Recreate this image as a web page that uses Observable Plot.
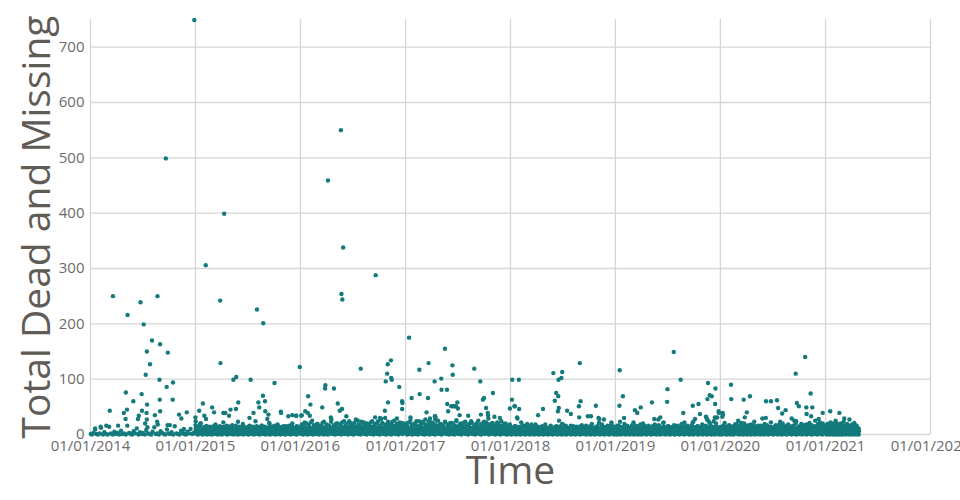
<!DOCTYPE html>
<html>
<head>
<meta charset="utf-8">
<script src="https://cdn.jsdelivr.net/npm/d3@7"></script>
<script src="https://cdn.jsdelivr.net/npm/@observablehq/plot@0.6"></script>
<style>
  html, body { margin: 0; padding: 0; background: #ffffff; }
  #chart { width: 960px; height: 500px; }
</style>
</head>
<body>
<div id="chart"></div>
<script>
// Years covered and tick values
const years = [2014, 2015, 2016, 2017, 2018, 2019, 2020, 2021];
const xTickYears = [2014, 2015, 2016, 2017, 2018, 2019, 2020, 2021, 2022];
const yTicks = [0, 100, 200, 300, 400, 500, 600, 700];

// Incidents: "dayOfYear value" pairs, read/.
// Larger incidents per year
const peaks2014 = "79 250,130 216,175 239,186 199,234 250,215 170,243 163,197 150,270 148,208 127,193 108,241 99,266 86,288 94,124 76,179 73,150 60,242 63,287 63,198 54,68 43,117 39,128 45,180 43,196 39,243 42,169 34,166 28,123 28,225 35,197 27,309 36,336 40,317 29,269 17,277 17,233 23,235 18,191 20,199 13,97 16,56 16,36 14,17 11,326 10,263 499,362 749";
const peaks2015 = "37 306,101 399,87 242,215 226,237 201,88 129,364 122,133 99,143 104,193 99,276 93,27 56,14 43,59 49,66 40,32 34,38 28,20 20,98 39,105 39,118 34,123 45,142 46,150 58,149 23,189 30,203 39,220 58,223 49,236 70,243 60,244 42,255 36,251 28,258 20,298 41,299 39,324 33,338 35,351 34,1 31,2 24,1 17,2 12,352 34";
const peaks2016 = "97 459,142 550,150 338,144 254,147 244,263 288,211 119,316 134,305 127,303 110,317 102,319 99,298 96,88 89,87 83,118 83,28 69,36 54,77 49,131 56,138 43,146 46,18 42,27 39,34 34,107 31,161 33,194 27,201 25,4 34,6 35,295 43,306 58,261 31,278 30,296 30,337 29,345 86,355 60,356 57,355 46";
const peaks2017 = "13 175,138 155,81 129,49 117,164 125,165 108,240 119,125 101,102 96,126 81,145 81,261 96,22 66,50 73,79 66,305 75,146 55,160 51,149 42,176 51,181 58,183 47,18 31,74 40,86 29,103 33,104 28,189 35,219 34,263 36,270 63,274 66,281 48,287 39,288 35,289 29,310 32,329 30,59 23,104 33,105 30,166 51,171 51,364 47";
const peaks2018 = "6 63,15 51,7 99,30 99,16 51,31 46,24 31,25 29,38 22,59 19,74 18,88 18,97 35,114 46,150 111,168 99,178 102,181 113,160 75,167 69,155 61,166 42,169 48,170 25,180 18,193 16,198 43,211 37,242 129,245 60,239 51,240 31,298 52,270 33,281 33,307 30,326 27,309 21,284 19,352 22,353 18,310 28";
const peaks2019 = "16 116,27 69,15 52,31 30,17 23,7 16,69 44,77 39,89 49,65 18,88 18,64 22,128 58,136 28,157 31,150 27,169 22,181 59,182 82,204 149,228 99,237 39,241 22,270 52,290 55,295 37,278 28,272 23,316 32,320 27,323 93,321 64,329 71,336 69,349 83,348 55,360 42,355 31,350 30,317 31,325 24,330 20,343 24,347 31,361 39";
const peaks2020 = "9 39,8 32,10 36,38 90,39 64,63 25,73 21,84 20,119 16,86 31,82 63,104 69,93 40,147 29,159 30,160 60,177 60,198 62,202 48,216 38,228 44,209 23,249 29,265 24,258 25,263 110,296 140,267 57,274 51,300 49,301 37,315 74,321 49,317 33,283 19,294 17,308 16,343 28,347 22,357 39";
const peaks2021 = "17 42,14 19,26 20,49 39,66 29,42 17,57 15";

// Dense band of small incidents
const low2014 = "2 1,6 0,11 3,17 9,21 1,27 0,33 2,38 12,44 0,49 4,55 1,61 0,66 14,72 2,78 0,84 5,90 1,95 3,101 0,107 7,112 1,118 2,124 0,129 16,135 3,140 1,146 0,151 6,157 2,162 11,168 0,173 4,179 1,184 3,190 0,195 8,201 2,206 1,212 0,217 5,223 13,228 1,234 2,239 0,245 6,250 3,256 1,261 0,267 9,272 2,278 1,283 4,289 0,294 15,300 2,305 1,311 0,316 7,322 3,327 1,333 0,338 5,344 2,349 10,355 1,360 3";
const low2015 = "1 4,3 9,5 1,8 12,10 0,13 6,15 3,18 20,20 2,22 7,25 0,27 11,30 4,32 1,35 8,37 2,40 15,42 0,44 5,47 3,49 10,52 1,54 6,57 0,59 13,61 3,64 7,66 1,69 4,71 18,74 2,76 9,78 0,81 5,83 12,86 1,88 3,91 8,93 0,95 6,98 22,100 2,103 10,105 4,108 1,110 7,112 0,115 14,117 3,120 5,122 1,125 9,127 2,129 17,132 0,134 6,137 11,139 3,142 1,144 8,146 4,149 0,151 13,154 2,156 6,159 1,161 10,163 3,166 19,168 0,171 7,173 2,176 12,178 5,180 1,183 9,185 0,188 4,190 15,193 2,195 8,197 1,200 11,202 3,205 0,207 6,210 24,212 2,214 9,217 4,219 1,222 13,224 0,227 7,229 3,231 16,234 1,236 5,239 10,241 2,244 0,246 8,248 3,251 12,253 1,256 6,258 21,261 0,263 4,265 9,268 2,270 14,273 1,275 7,278 3,280 0,282 11,285 5,287 18,290 1,292 8,295 2,297 0,299 13,302 4,304 6,307 1,309 10,312 3,314 0,316 15,319 7,321 2,324 9,326 1,329 12,331 4,333 0,336 6,338 20,341 2,343 8,346 1,348 11,350 3,353 0,355 7,358 14,360 2,363 5";
const low2016 = "2 6,4 1,6 14,9 3,11 0,13 9,16 22,18 2,21 5,23 11,25 0,28 7,30 17,33 3,35 1,37 10,40 4,42 25,45 0,47 8,49 2,52 13,54 5,57 1,59 19,61 3,64 9,66 0,69 6,71 15,73 2,76 11,78 4,81 0,83 23,85 7,88 1,90 12,93 3,95 8,97 0,100 16,102 5,105 2,107 10,109 27,112 1,114 6,117 14,119 3,121 0,124 9,126 20,129 4,131 1,133 12,136 7,138 2,141 18,143 0,145 5,148 11,150 3,153 24,155 1,157 8,160 15,162 2,165 6,167 0,169 13,172 4,174 21,177 1,179 9,181 3,184 16,186 0,189 7,191 12,193 2,196 26,198 5,201 1,203 10,205 3,208 17,210 0,213 8,215 14,217 2,220 6,222 22,225 1,227 11,229 4,232 0,234 19,237 7,239 2,241 13,244 5,246 1,249 9,251 24,253 3,256 0,258 15,261 6,263 2,265 11,268 20,270 1,273 8,275 4,277 0,280 14,282 28,285 3,287 7,289 1,292 12,294 5,297 18,299 0,301 9,304 2,306 23,309 6,311 1,313 13,316 4,318 0,321 16,323 8,325 2,328 25,330 5,333 1,335 11,337 3,340 19,342 0,345 7,347 14,349 2,352 21,354 6,357 1,359 10,361 4,364 17";
const low2017 = "1 3,3 12,6 0,8 21,10 5,13 1,15 9,18 26,20 2,22 14,25 0,27 7,30 18,32 3,34 1,37 11,39 24,42 4,44 0,46 8,49 15,51 2,54 6,56 20,58 1,61 10,63 3,66 0,68 13,70 27,73 5,75 1,78 9,80 17,82 2,85 0,87 12,90 4,92 22,94 7,97 1,99 15,102 3,104 0,106 10,109 25,111 6,114 2,116 13,118 1,121 19,123 4,126 0,128 8,130 16,133 2,135 11,138 23,140 5,142 1,145 9,147 3,150 18,152 0,154 14,157 6,159 2,162 21,164 1,166 10,169 4,171 0,174 15,176 7,178 26,181 2,183 12,186 1,188 5,190 19,193 3,195 0,198 9,200 14,202 2,205 22,207 6,210 1,212 11,214 4,217 17,219 0,222 8,224 13,226 2,229 24,231 5,234 1,236 10,238 3,241 16,243 0,246 7,248 20,250 2,253 12,255 4,258 1,260 9,262 18,265 0,267 6,270 14,272 3,274 23,277 1,279 8,282 11,284 2,286 5,289 17,291 0,294 9,296 3,298 13,301 20,303 1,306 7,308 4,310 15,313 0,315 10,318 2,320 22,322 6,325 1,327 12,330 3,332 0,334 16,337 8,339 2,342 11,344 19,346 1,349 5,351 13,354 0,356 9,358 3,361 15,363 1";
const low2018 = "2 5,4 0,7 11,9 2,12 7,14 1,16 15,19 3,21 0,24 9,26 4,28 13,31 1,33 6,36 0,38 10,40 2,43 17,45 5,48 1,50 8,52 0,55 12,57 3,60 6,62 1,64 14,67 2,69 0,72 9,74 4,76 11,79 1,81 7,84 0,86 16,88 3,91 5,93 1,96 10,98 2,100 0,103 13,105 6,108 1,110 8,112 3,115 0,117 12,120 4,122 18,124 1,127 7,129 2,132 0,134 10,136 5,139 14,141 1,144 3,146 9,148 0,151 6,153 11,156 2,158 1,160 15,163 4,165 0,168 8,170 2,172 12,175 1,177 6,180 0,182 19,184 3,187 9,189 1,192 5,194 13,196 0,199 7,201 2,204 10,206 4,208 1,211 16,213 0,216 8,218 3,220 11,223 1,225 6,228 0,230 14,232 2,235 9,237 4,240 1,242 12,244 0,247 7,249 17,252 2,254 5,256 1,259 10,261 3,264 0,266 13,268 6,271 1,273 8,276 2,278 15,280 0,283 4,285 11,288 1,290 7,292 3,295 0,297 9,300 14,302 2,304 5,307 1,309 12,312 0,314 8,316 3,319 18,321 1,324 6,326 10,328 0,331 4,333 13,336 2,338 7,340 1,343 11,345 0,348 5,350 16,352 3,355 9,357 1,360 6,362 0,364 12";
const low2019 = "1 8,3 1,6 13,8 0,11 5,13 16,15 2,18 9,20 0,23 12,25 4,27 1,30 7,32 19,35 2,37 0,39 10,42 5,44 14,47 1,49 6,51 0,54 11,56 3,59 17,61 1,63 8,66 0,68 4,71 13,73 2,75 9,78 1,80 0,83 15,85 6,87 2,90 11,92 0,95 4,97 20,99 1,102 7,104 3,107 12,109 0,111 9,114 2,116 16,119 5,121 1,123 10,126 0,128 13,131 3,133 7,135 1,138 18,140 2,143 0,145 8,147 11,150 4,152 1,155 14,157 0,159 6,162 9,164 2,167 21,169 1,171 5,174 12,176 0,179 7,181 3,183 15,186 1,188 10,191 0,193 4,195 13,198 2,200 8,203 1,205 17,207 0,210 6,212 11,215 3,217 1,219 9,222 14,224 0,227 5,229 2,231 19,234 1,236 7,239 12,241 0,243 4,246 10,248 2,251 16,253 1,255 6,258 0,260 13,263 3,265 8,267 1,270 22,272 0,275 5,277 11,279 2,282 9,284 1,287 15,289 0,291 7,294 3,296 12,299 1,301 4,303 18,306 0,308 10,311 2,313 6,315 14,318 1,320 0,323 9,325 3,327 12,330 1,332 17,335 0,337 5,339 8,342 2,344 13,347 0,349 6,351 20,354 1,356 10,359 3,361 7,363 0";
const low2020 = "2 10,4 1,7 0,9 14,11 3,14 6,16 21,19 1,21 8,23 0,26 12,28 4,31 2,33 16,35 0,38 9,40 5,43 1,45 13,47 0,50 7,52 18,55 2,57 10,59 1,62 4,64 15,67 0,69 6,71 11,74 2,76 1,79 20,81 0,83 8,86 3,88 13,91 1,93 5,95 0,98 10,100 17,103 2,105 7,107 0,110 12,112 4,115 1,117 9,119 23,122 0,124 6,127 14,129 2,131 1,134 11,136 5,139 0,141 16,143 3,146 8,148 1,151 12,153 0,155 19,158 4,160 7,163 2,165 10,167 0,170 14,172 1,175 6,177 22,179 3,182 9,184 0,187 13,189 5,191 1,194 17,196 2,199 8,201 0,203 11,206 4,208 15,211 1,213 7,215 0,218 20,220 3,223 10,225 1,227 6,230 13,232 0,235 9,237 18,239 2,242 5,244 1,247 12,249 0,251 8,254 16,256 3,259 1,261 11,263 24,266 0,268 7,271 4,273 14,275 1,278 9,280 2,283 19,285 0,287 6,290 12,292 3,295 1,297 17,299 8,302 0,304 13,307 5,309 2,311 21,314 1,316 10,319 0,321 15,323 4,326 7,328 1,331 25,333 3,335 11,338 0,340 6,343 18,345 2,347 9,350 1,352 14,355 0,357 20,359 5,362 3,364 12";
const low2021 = "1 6,2 14,4 0,5 9,7 2,8 19,10 4,12 1,13 11,15 0,16 7,18 22,20 3,21 13,23 1,24 8,26 0,28 16,29 5,31 2,32 10,34 0,36 25,37 6,39 1,40 12,42 3,44 0,45 17,47 7,48 2,50 11,52 0,53 20,55 4,56 9,58 1,60 14,61 0,63 6,64 23,66 2,68 10,69 1,71 15,72 0,74 8,76 19,77 3,79 12,80 1,82 5,84 27,85 0,87 9,88 14,90 2,92 6,93 18,95 0,96 11,98 3,100 7,101 21,103 1,104 13,106 0,108 9,109 16,111 4,112 2,114 10,116 0,117 6";

// Second layer of the dense band (values a little above zero)
const mid2014 = "";
const mid2015 = "2 7,5 14,7 3,10 9,12 5,15 16,17 8,20 4,23 11,25 6,28 2,30 13,33 9,35 5,38 15,41 7,43 3,46 10,48 6,51 14,53 2,56 9,58 5,61 12,63 8,66 16,68 3,71 10,73 6,76 13,78 4,81 9,84 7,86 15,89 2,91 11,94 5,96 8,99 14,101 3,104 10,106 6,109 16,111 4,114 9,117 12,119 2,122 7,124 15,127 5,129 10,132 3,135 13,137 8,140 6,142 16,145 2,147 11,150 7,153 4,155 14,158 9,160 3,163 12,165 6,168 15,171 8,173 2,176 10,178 5,181 13,183 7,186 3,189 16,191 9,194 4,196 11,199 6,201 14,204 2,207 8,209 12,212 5,214 15,217 3,219 10,222 7,225 13,227 4,230 9,232 16,235 2,237 11,240 6,243 14,245 8,248 3,250 12,253 5,255 10,258 7,261 15,263 2,266 9,268 13,271 4,273 6,276 16,279 8,281 3,284 11,286 5,289 14,291 7,294 2,297 10,299 12,302 4,304 8,307 15,309 3,312 9,315 6,317 13,320 2,322 11,325 7,327 16,330 4,333 10,335 5,338 14,340 8,343 3,345 12,348 6,351 9,353 15,356 2,358 11,361 7,363 4";
const mid2016 = "1 12,3 5,6 18,8 9,11 3,13 15,16 7,18 11,21 4,23 20,26 8,28 2,31 14,33 10,36 6,38 22,41 3,43 12,46 8,48 17,51 5,53 10,56 2,58 14,61 19,63 6,66 11,68 3,71 9,73 16,76 5,78 21,81 8,83 2,86 13,88 10,91 4,93 18,96 7,98 12,101 3,103 15,106 9,108 23,111 5,113 11,116 2,118 17,121 7,123 14,126 4,128 10,131 20,133 6,136 12,138 3,141 16,143 8,146 22,148 5,151 11,153 2,156 15,158 9,161 19,163 4,166 13,168 7,171 24,173 3,176 10,178 17,181 6,183 12,186 2,188 21,191 8,193 14,196 5,198 11,201 3,203 18,206 9,208 15,211 4,213 23,216 7,218 12,221 2,223 16,226 10,228 5,231 20,233 8,236 13,238 3,241 17,243 6,246 22,248 11,251 4,253 14,256 9,258 2,261 19,263 7,266 12,268 5,271 24,273 10,276 3,278 16,281 8,283 13,286 21,288 4,291 11,293 6,296 17,298 2,301 14,303 9,306 20,308 5,311 12,313 3,316 18,318 7,321 23,323 10,326 4,328 15,331 8,333 2,336 19,338 6,341 13,343 11,346 22,348 4,351 16,353 8,356 3,358 12,361 20,363 6";
const mid2017 = "2 9,4 17,7 4,9 13,12 7,14 22,17 3,19 11,22 8,24 18,27 5,29 14,32 2,34 20,37 9,39 6,42 15,44 3,47 24,49 10,52 7,54 16,57 4,59 12,62 21,64 6,67 9,69 3,72 18,74 11,77 5,79 14,82 23,84 8,87 2,89 16,92 10,94 6,97 20,99 4,102 13,104 8,107 17,109 3,112 11,114 25,117 7,119 14,122 5,124 19,127 9,129 2,132 15,134 12,137 6,139 22,142 4,144 10,147 17,149 8,152 3,154 13,157 21,159 6,162 11,164 4,167 18,169 9,172 15,174 2,177 24,179 7,182 12,184 5,187 16,189 10,192 3,194 20,197 8,199 13,202 4,204 17,207 11,209 23,212 6,214 9,217 3,219 15,222 19,224 7,227 12,229 4,232 21,234 10,237 5,239 14,242 8,244 2,247 18,249 11,252 6,254 25,257 4,259 13,262 9,264 16,267 3,269 20,272 7,274 11,277 5,279 15,282 22,284 8,287 3,289 12,292 18,294 6,297 10,299 4,302 14,304 21,307 8,309 2,312 17,314 11,317 5,319 13,322 9,324 19,327 3,329 15,332 7,334 24,337 10,339 4,342 12,344 6,347 16,349 20,352 3,354 11,357 8,359 14,362 5,364 18";
const mid2018 = "1 10,4 4,6 13,9 7,11 2,14 11,16 6,19 15,21 3,24 9,26 12,29 5,31 8,34 14,36 2,39 10,41 6,44 3,46 13,49 8,51 4,54 16,56 7,59 2,61 11,64 5,66 9,69 13,71 3,74 7,76 15,79 4,81 10,84 6,86 2,89 12,91 8,94 5,96 14,99 3,101 9,104 11,106 6,109 2,111 15,114 7,116 4,119 10,121 13,124 5,126 3,129 8,131 12,134 6,136 2,139 11,141 16,144 4,146 7,149 10,151 3,154 13,156 5,159 8,161 2,164 14,166 6,169 11,171 4,174 9,176 15,179 3,181 7,184 12,186 5,189 2,191 10,194 6,196 14,199 4,201 8,204 3,206 11,209 13,211 5,214 7,216 2,219 15,221 9,224 4,226 6,229 12,231 3,234 10,236 8,239 2,241 14,244 5,246 11,249 7,251 3,254 13,256 9,259 4,261 6,264 16,266 2,269 10,271 8,274 5,276 12,279 3,281 14,284 7,286 4,289 11,291 2,294 9,296 13,299 6,301 3,304 15,306 8,309 5,311 10,314 2,316 12,319 7,321 4,324 14,326 9,329 3,331 6,334 11,336 2,339 16,341 8,344 5,346 13,349 3,351 10,354 7,356 4,359 14,361 2,364 9";
const mid2019 = "2 6,5 12,7 3,10 15,12 8,15 4,17 10,20 2,22 13,25 6,27 9,30 3,32 14,35 7,37 11,40 4,42 16,45 2,47 9,50 12,52 5,55 7,57 3,60 14,62 10,65 6,67 2,70 11,72 8,75 15,77 4,80 6,82 12,85 3,87 9,90 13,92 5,95 2,97 10,100 7,102 16,105 4,107 11,110 3,112 8,115 14,117 6,120 2,122 12,125 9,127 5,130 15,132 3,135 7,137 11,140 4,142 13,145 2,147 9,150 6,152 17,155 3,157 10,160 8,162 5,165 12,167 2,170 14,172 7,175 4,177 11,180 9,182 3,185 15,187 6,190 2,192 13,195 8,197 5,200 10,202 3,205 14,207 7,210 12,212 4,215 2,217 16,220 9,222 6,225 11,227 3,230 8,232 13,235 5,237 2,240 15,242 10,245 7,247 4,250 12,252 3,255 9,257 14,260 6,262 2,265 11,267 17,270 5,272 8,275 3,277 13,280 10,282 4,285 7,287 15,290 2,292 12,295 6,297 9,300 3,302 14,305 11,307 5,310 8,312 2,315 16,317 7,320 4,322 12,325 10,327 3,330 6,332 15,335 9,337 2,340 13,342 5,345 11,347 7,350 3,352 14,355 8,357 4,360 10,362 2,364 13";
const mid2020 = "1 5,3 13,6 8,8 3,11 16,13 6,16 10,18 2,21 14,23 7,26 4,28 11,31 17,33 3,36 9,38 12,41 5,43 2,46 15,48 8,51 6,53 11,56 3,58 19,61 7,63 10,66 4,68 13,71 2,73 9,76 15,78 5,81 7,83 12,86 3,88 10,91 16,93 6,96 2,98 13,101 8,103 4,106 11,108 18,111 5,113 9,116 3,118 14,121 7,123 2,126 12,128 10,131 5,133 16,136 3,138 8,141 13,143 6,146 2,148 11,151 15,153 4,156 9,158 7,161 3,163 17,166 5,168 10,171 12,173 2,176 14,178 8,181 4,183 11,186 6,188 3,191 15,193 9,196 2,198 13,201 7,203 5,206 18,208 10,211 3,213 12,216 6,218 8,221 14,223 2,226 11,228 4,231 16,233 7,236 3,238 10,241 13,243 5,246 9,248 2,251 15,253 6,256 12,258 4,261 8,263 20,266 3,268 11,271 7,273 14,276 2,278 10,281 5,283 16,286 9,288 3,291 13,293 6,296 11,298 2,301 18,303 8,306 4,308 14,311 7,313 10,316 3,318 17,321 5,323 12,326 9,328 2,331 15,333 6,336 11,338 4,341 19,343 8,346 3,348 13,351 10,353 5,356 16,358 2,361 9,363 7";
const mid2021 = "1 3,3 11,4 17,6 5,8 13,9 7,11 2,12 15,14 9,16 4,17 12,19 6,21 18,22 3,24 10,25 14,27 5,28 8,30 2,32 16,33 11,35 6,36 13,38 3,40 20,41 8,43 5,44 14,46 10,48 2,49 16,51 7,52 12,54 4,56 9,57 18,59 6,60 3,62 13,64 10,65 15,67 5,68 8,70 2,72 12,73 17,75 6,76 11,78 4,80 14,81 9,83 3,84 16,86 7,88 12,89 2,91 10,92 5,94 15,96 8,97 13,99 4,100 11,102 6,104 17,105 3,107 9,108 14,110 5,112 12,113 2,115 8,116 11";

const peakStrings = [peaks2014, peaks2015, peaks2016, peaks2017, peaks2018, peaks2019, peaks2020, peaks2021];
const lowStrings = [low2014, low2015, low2016, low2017, low2018, low2019, low2020, low2021];
const midStrings = [mid2014, mid2015, mid2016, mid2017, mid2018, mid2019, mid2020, mid2021];

function parseYear(year, s) {
  if (!s) return [];
  return s.split(",").map(p => {
    const [d, v] = p.trim().split(/\s+/).map(Number);
    return { date: new Date(Date.UTC(year, 0, d)), value: v };
  });
}

const data = [];
years.forEach((y, i) => {
  data.push(...parseYear(y, lowStrings[i]));
  data.push(...parseYear(y, midStrings[i]));
  data.push(...parseYear(y, peakStrings[i]));
});

const xTicks = xTickYears.map(y => new Date(Date.UTC(y, 0, 1)));
const fmt = d3.utcFormat("%m/%d/%Y");
const FONT = "'Open Sans', 'DejaVu Sans', sans-serif";
const gridColor = "#d6d6d6";

const chart = Plot.plot({
  width: 960,
  height: 500,
  marginLeft: 90,
  marginRight: 30,
  marginTop: 19,
  marginBottom: 66,
  style: { fontFamily: FONT, background: "#ffffff", color: "#6b6b6b", overflow: "hidden" },
  x: { type: "utc", domain: [xTicks[0], xTicks[xTicks.length - 1]] },
  y: { domain: [0, 750] },
  marks: [
    Plot.gridX(xTicks, { stroke: gridColor, strokeOpacity: 1, strokeWidth: 1.3 }),
    Plot.gridY(yTicks, { stroke: gridColor, strokeOpacity: 1, strokeWidth: 1.3 }),
    Plot.axisX(xTicks, { tickFormat: fmt, tickSize: 0, tickPadding: 6, fontSize: 15, label: null, fill: "#6b6b6b" }),
    Plot.axisY(yTicks, { tickSize: 0, tickPadding: 6, fontSize: 15, label: null, fill: "#6b6b6b" }),
    Plot.dot(data, { x: "date", y: "value", r: 2.2, fill: "#147a7b", stroke: null }),
    Plot.text(["Total Dead and Missing"], { text: d => d, frameAnchor: "left", textAnchor: "middle", lineAnchor: "middle", dx: -53, rotate: -90, fontSize: 39, fill: "#5f5b57" }),
    Plot.text(["Time"], { text: d => d, frameAnchor: "bottom", textAnchor: "middle", lineAnchor: "middle", dy: 37, fontSize: 39, fill: "#5f5b57" })
  ]
});

document.getElementById("chart").appendChild(chart);
</script>
</body>
</html>
